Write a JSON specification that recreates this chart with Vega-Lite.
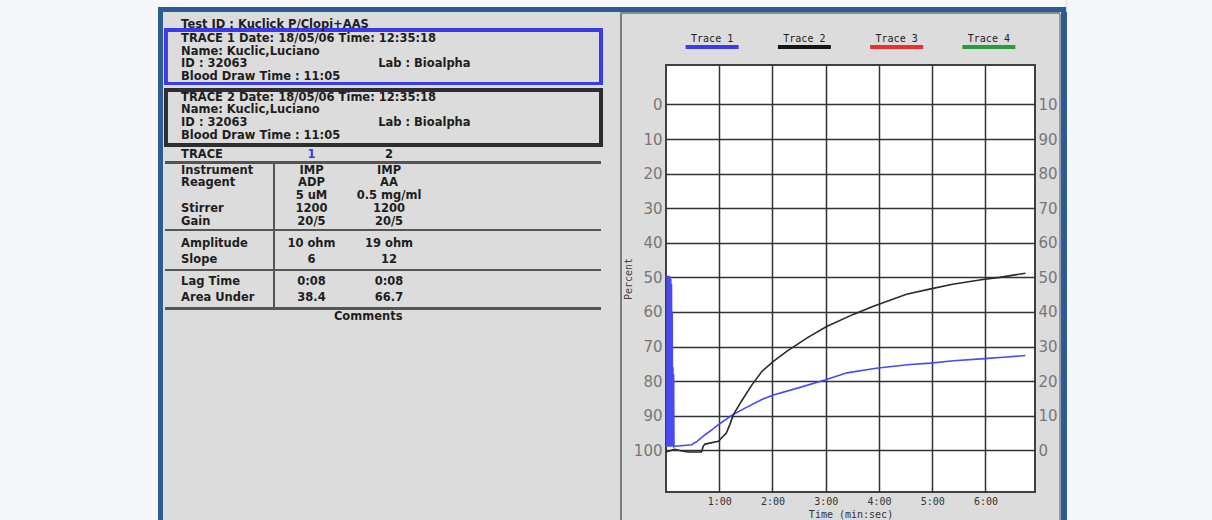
{
  "$schema": "https://vega.github.io/schema/vega-lite/v6.json",
  "background": "#dcdcdc",
  "padding": 0,
  "spacing": 0,
  "config": {"view": {"stroke": null}, "concat": {"spacing": 0}},
  "datasets": {
    "info": [
      {"line": 4, "col": "label", "text": "Test ID : Kuclick P/Clopi+AAS"},
      {"line": 8.5, "col": "label", "text": "TRACE 1 Date: 18/05/06 Time: 12:35:18"},
      {"line": 12.5, "col": "label", "text": "Name: Kuclic,Luciano"},
      {"line": 16.5, "col": "label", "text": "ID  : 32063"},
      {"line": 16.5, "col": "lab", "text": "Lab : Bioalpha"},
      {"line": 20.5, "col": "label", "text": "Blood Draw Time : 11:05"},
      {"line": 27, "col": "label", "text": "TRACE 2 Date: 18/05/06 Time: 12:35:18"},
      {"line": 31, "col": "label", "text": "Name: Kuclic,Luciano"},
      {"line": 35, "col": "label", "text": "ID  : 32063"},
      {"line": 35, "col": "lab", "text": "Lab : Bioalpha"},
      {"line": 39, "col": "label", "text": "Blood Draw Time : 11:05"},
      {"line": 45, "col": "label", "text": "TRACE"},
      {"line": 45, "col": "h1", "text": "1"},
      {"line": 45, "col": "t2", "text": "2"},
      {"line": 50, "col": "label", "text": "Instrument"},
      {"line": 50, "col": "t1", "text": "IMP"},
      {"line": 50, "col": "t2", "text": "IMP"},
      {"line": 54, "col": "label", "text": "Reagent"},
      {"line": 54, "col": "t1", "text": "ADP"},
      {"line": 54, "col": "t2", "text": "AA"},
      {"line": 58, "col": "t1", "text": "5 uM"},
      {"line": 58, "col": "t2", "text": "0.5 mg/ml"},
      {"line": 62, "col": "label", "text": "Stirrer"},
      {"line": 62, "col": "t1", "text": "1200"},
      {"line": 62, "col": "t2", "text": "1200"},
      {"line": 66, "col": "label", "text": "Gain"},
      {"line": 66, "col": "t1", "text": "20/5"},
      {"line": 66, "col": "t2", "text": "20/5"},
      {"line": 73, "col": "label", "text": "Amplitude"},
      {"line": 73, "col": "t1", "text": "10 ohm"},
      {"line": 73, "col": "t2", "text": "19 ohm"},
      {"line": 78, "col": "label", "text": "Slope"},
      {"line": 78, "col": "t1", "text": "6"},
      {"line": 78, "col": "t2", "text": "12"},
      {"line": 85, "col": "label", "text": "Lag Time"},
      {"line": 85, "col": "t1", "text": "0:08"},
      {"line": 85, "col": "t2", "text": "0:08"},
      {"line": 90, "col": "label", "text": "Area Under"},
      {"line": 90, "col": "t1", "text": "38.4"},
      {"line": 90, "col": "t2", "text": "66.7"},
      {"line": 96, "col": "center", "text": "Comments"}
    ],
    "traces": [
      {"trace": 1, "t": 1, "pct": 99}, {"trace": 1, "t": 1.4, "pct": 49.5}, {"trace": 1, "t": 1.8, "pct": 99},
      {"trace": 1, "t": 2.2, "pct": 49.5}, {"trace": 1, "t": 2.6, "pct": 99}, {"trace": 1, "t": 3, "pct": 49.5},
      {"trace": 1, "t": 3.4, "pct": 99}, {"trace": 1, "t": 3.8, "pct": 49.5}, {"trace": 1, "t": 4.2, "pct": 99},
      {"trace": 1, "t": 4.6, "pct": 50}, {"trace": 1, "t": 5, "pct": 99}, {"trace": 1, "t": 5.4, "pct": 50.5},
      {"trace": 1, "t": 5.8, "pct": 99}, {"trace": 1, "t": 6.2, "pct": 52}, {"trace": 1, "t": 6.6, "pct": 99},
      {"trace": 1, "t": 7, "pct": 60}, {"trace": 1, "t": 7.4, "pct": 99}, {"trace": 1, "t": 7.8, "pct": 76},
      {"trace": 1, "t": 8.2, "pct": 99}, {"trace": 1, "t": 8.6, "pct": 78}, {"trace": 1, "t": 9, "pct": 99},
      {"trace": 1, "t": 10, "pct": 98.8}, {"trace": 1, "t": 20, "pct": 98.6}, {"trace": 1, "t": 29, "pct": 98.4},
      {"trace": 1, "t": 35, "pct": 97.4}, {"trace": 1, "t": 44, "pct": 95.5}, {"trace": 1, "t": 52, "pct": 94},
      {"trace": 1, "t": 59, "pct": 92.6}, {"trace": 1, "t": 74, "pct": 89.9}, {"trace": 1, "t": 89, "pct": 87.8},
      {"trace": 1, "t": 108, "pct": 85.3}, {"trace": 1, "t": 121, "pct": 84}, {"trace": 1, "t": 151, "pct": 81.8},
      {"trace": 1, "t": 179, "pct": 79.7}, {"trace": 1, "t": 204, "pct": 77.6}, {"trace": 1, "t": 226, "pct": 76.7},
      {"trace": 1, "t": 239, "pct": 76.2}, {"trace": 1, "t": 275, "pct": 75.2}, {"trace": 1, "t": 298, "pct": 74.8},
      {"trace": 1, "t": 324, "pct": 74.1}, {"trace": 1, "t": 359, "pct": 73.5}, {"trace": 1, "t": 380, "pct": 73.1},
      {"trace": 1, "t": 405, "pct": 72.6},
      {"trace": 2, "t": 0, "pct": 100.3}, {"trace": 2, "t": 2, "pct": 100.3}, {"trace": 2, "t": 10, "pct": 99.7},
      {"trace": 2, "t": 18, "pct": 100.2}, {"trace": 2, "t": 25, "pct": 100.5}, {"trace": 2, "t": 40, "pct": 100.5},
      {"trace": 2, "t": 42, "pct": 98.8}, {"trace": 2, "t": 44, "pct": 98.2}, {"trace": 2, "t": 59, "pct": 97.4},
      {"trace": 2, "t": 68, "pct": 95}, {"trace": 2, "t": 72, "pct": 92.5}, {"trace": 2, "t": 76, "pct": 89.7},
      {"trace": 2, "t": 85, "pct": 85.8}, {"trace": 2, "t": 97, "pct": 81}, {"trace": 2, "t": 108, "pct": 77.2},
      {"trace": 2, "t": 121, "pct": 74.3}, {"trace": 2, "t": 136, "pct": 71.4}, {"trace": 2, "t": 159, "pct": 67.5},
      {"trace": 2, "t": 181, "pct": 64.2}, {"trace": 2, "t": 211, "pct": 60.7}, {"trace": 2, "t": 233, "pct": 58.4},
      {"trace": 2, "t": 271, "pct": 54.9}, {"trace": 2, "t": 297, "pct": 53.4}, {"trace": 2, "t": 323, "pct": 52},
      {"trace": 2, "t": 357, "pct": 50.6}, {"trace": 2, "t": 376, "pct": 50}, {"trace": 2, "t": 405, "pct": 48.8}
    ]
  },
  "hconcat": [
    {"width": 158, "height": 520, "data": {"values": []}, "mark": "rect", "view": {"fill": "#f5f7fa"}},
    {
      "spacing": 0,
      "vconcat": [
        {"width": 908, "height": 7, "data": {"values": []}, "mark": "rect", "view": {"fill": "#f5f7fa"}},
        {"width": 908, "height": 5, "data": {"values": []}, "mark": "rect", "view": {"fill": "#2c5b95"}},
        {
          "spacing": 0,
          "hconcat": [
            {"width": 5, "height": 508, "data": {"values": []}, "mark": "rect", "view": {"fill": "#2c5b95"}},
            {
              "width": 452, "height": 508,
              "data": {"name": "info"},
              "layer": [
                {"mark": {"type": "rect", "filled": false, "color": "#3b3be8", "strokeWidth": 2.5},
                 "encoding": {
                   "x": {"datum": 0.62, "type": "quantitative", "scale": {"domain": [0, 100]}, "axis": null},
                   "x2": {"datum": 96.9},
                   "y": {"datum": 5.67, "type": "quantitative", "scale": {"domain": [0, 160], "reverse": true}, "axis": null},
                   "y2": {"datum": 22.58}}},
                {"mark": {"type": "rect", "filled": false, "color": "#2e2e2e", "strokeWidth": 2.5},
                 "encoding": {
                   "x": {"datum": 0.62, "type": "quantitative", "scale": {"domain": [0, 100]}, "axis": null},
                   "x2": {"datum": 96.9},
                   "y": {"datum": 24.57, "type": "quantitative", "scale": {"domain": [0, 160], "reverse": true}, "axis": null},
                   "y2": {"datum": 41.89}}},
                {"mark": {"type": "rule", "color": "#555555", "strokeWidth": 2},
                 "encoding": {
                   "x": {"datum": 0.62, "type": "quantitative", "scale": {"domain": [0, 100]}, "axis": null},
                   "x2": {"datum": 96.9},
                   "y": {"datum": 47.4, "type": "quantitative", "scale": {"domain": [0, 160], "reverse": true}, "axis": null}}},
                {"mark": {"type": "rule", "color": "#555555", "strokeWidth": 2},
                 "encoding": {
                   "x": {"datum": 0.62, "type": "quantitative", "scale": {"domain": [0, 100]}, "axis": null},
                   "x2": {"datum": 96.9},
                   "y": {"datum": 68.66, "type": "quantitative", "scale": {"domain": [0, 160], "reverse": true}, "axis": null}}},
                {"mark": {"type": "rule", "color": "#555555", "strokeWidth": 2},
                 "encoding": {
                   "x": {"datum": 0.62, "type": "quantitative", "scale": {"domain": [0, 100]}, "axis": null},
                   "x2": {"datum": 96.9},
                   "y": {"datum": 81.26, "type": "quantitative", "scale": {"domain": [0, 160], "reverse": true}, "axis": null}}},
                {"mark": {"type": "rule", "color": "#555555", "strokeWidth": 2},
                 "encoding": {
                   "x": {"datum": 0.62, "type": "quantitative", "scale": {"domain": [0, 100]}, "axis": null},
                   "x2": {"datum": 96.9},
                   "y": {"datum": 93.39, "type": "quantitative", "scale": {"domain": [0, 160], "reverse": true}, "axis": null}}},
                {"mark": {"type": "rule", "color": "#555555", "strokeWidth": 2},
                 "encoding": {
                   "x": {"datum": 24.56, "type": "quantitative", "scale": {"domain": [0, 100]}, "axis": null},
                   "y": {"datum": 47.4, "type": "quantitative", "scale": {"domain": [0, 160], "reverse": true}, "axis": null},
                   "y2": {"datum": 93.39}}},
                {"transform": [{"filter": "datum.col === 'label'"}],
                 "mark": {"type": "text", "align": "left", "baseline": "middle", "font": "DejaVu Sans", "fontWeight": "bold", "fontSize": 11.5, "color": "#1e1e1e"},
                 "encoding": {
                   "x": {"datum": 4, "type": "quantitative", "scale": {"domain": [0, 100]}, "axis": null},
                   "y": {"field": "line", "type": "quantitative", "scale": {"domain": [0, 160], "reverse": true}, "axis": null},
                   "text": {"field": "text"}}},
                {"transform": [{"filter": "datum.col === 'lab'"}],
                 "mark": {"type": "text", "align": "left", "baseline": "middle", "font": "DejaVu Sans", "fontWeight": "bold", "fontSize": 11.5, "color": "#1e1e1e"},
                 "encoding": {
                   "x": {"datum": 47.6, "type": "quantitative", "scale": {"domain": [0, 100]}, "axis": null},
                   "y": {"field": "line", "type": "quantitative", "scale": {"domain": [0, 160], "reverse": true}, "axis": null},
                   "text": {"field": "text"}}},
                {"transform": [{"filter": "datum.col === 't1'"}],
                 "mark": {"type": "text", "align": "center", "baseline": "middle", "font": "DejaVu Sans", "fontWeight": "bold", "fontSize": 11.5, "color": "#1e1e1e"},
                 "encoding": {
                   "x": {"datum": 32.85, "type": "quantitative", "scale": {"domain": [0, 100]}, "axis": null},
                   "y": {"field": "line", "type": "quantitative", "scale": {"domain": [0, 160], "reverse": true}, "axis": null},
                   "text": {"field": "text"}}},
                {"transform": [{"filter": "datum.col === 'h1'"}],
                 "mark": {"type": "text", "align": "center", "baseline": "middle", "font": "DejaVu Sans", "fontWeight": "bold", "fontSize": 11.5, "color": "#3a3af0"},
                 "encoding": {
                   "x": {"datum": 32.85, "type": "quantitative", "scale": {"domain": [0, 100]}, "axis": null},
                   "y": {"field": "line", "type": "quantitative", "scale": {"domain": [0, 160], "reverse": true}, "axis": null},
                   "text": {"field": "text"}}},
                {"transform": [{"filter": "datum.col === 't2'"}],
                 "mark": {"type": "text", "align": "center", "baseline": "middle", "font": "DejaVu Sans", "fontWeight": "bold", "fontSize": 11.5, "color": "#1e1e1e"},
                 "encoding": {
                   "x": {"datum": 50.0, "type": "quantitative", "scale": {"domain": [0, 100]}, "axis": null},
                   "y": {"field": "line", "type": "quantitative", "scale": {"domain": [0, 160], "reverse": true}, "axis": null},
                   "text": {"field": "text"}}},
                {"transform": [{"filter": "datum.col === 'center'"}],
                 "mark": {"type": "text", "align": "center", "baseline": "middle", "font": "DejaVu Sans", "fontWeight": "bold", "fontSize": 11.5, "color": "#1e1e1e"},
                 "encoding": {
                   "x": {"datum": 45.4, "type": "quantitative", "scale": {"domain": [0, 100]}, "axis": null},
                   "y": {"field": "line", "type": "quantitative", "scale": {"domain": [0, 160], "reverse": true}, "axis": null},
                   "text": {"field": "text"}}}
              ]
            },
            {"width": 5, "height": 508, "data": {"values": []}, "mark": "rect"},
            {
              "spacing": 0,
              "vconcat": [
                {"width": 440, "height": 2, "data": {"values": []}, "mark": "rect", "view": {"fill": "#8a8a8a"}},
                {
                  "spacing": 0,
                  "hconcat": [
                    {"width": 2, "height": 506, "data": {"values": []}, "mark": "rect", "view": {"fill": "#7a7a7a"}},
                    {
                      "spacing": 0,
                      "vconcat": [
                        {
                          "width": 369, "height": 50,
                          "data": {"values": [{"trace": "Trace 1"}, {"trace": "Trace 2"}, {"trace": "Trace 3"}, {"trace": "Trace 4"}]},
                          "encoding": {"x": {"field": "trace", "type": "nominal", "scale": {"type": "point", "padding": 0.5}, "axis": null}},
                          "layer": [
                            {"mark": {"type": "text", "font": "DejaVu Sans Mono", "fontSize": 10, "color": "#222222", "baseline": "middle"},
                             "encoding": {"text": {"field": "trace"}}},
                            {"mark": {"type": "point", "shape": "M-1,0L1,0", "size": 2809, "strokeWidth": 4, "filled": false, "opacity": 1, "yOffset": 8},
                             "encoding": {"color": {"field": "trace", "type": "nominal", "scale": {"domain": ["Trace 1", "Trace 2", "Trace 3", "Trace 4"], "range": ["#3a3af0", "#151515", "#e83030", "#2a9a3a"]}, "legend": null}}}
                          ]
                        },
                        {
                          "width": 369, "height": 427,
                          "view": {"fill": "#ffffff", "stroke": "#404040", "strokeWidth": 2},
                          "data": {"name": "traces"},
                          "encoding": {
                            "x": {"field": "t", "type": "quantitative",
                                  "scale": {"domain": [0, 415.8], "nice": false, "zero": false},
                                  "axis": {"values": [60, 120, 180, 240, 300, 360], "labelExpr": "floor(datum.value / 60) + ':00'",
                                           "grid": true, "gridColor": "#333333", "gridWidth": 1.5, "domain": false, "ticks": false,
                                           "labelFont": "DejaVu Sans Mono", "labelFontSize": 10, "labelColor": "#333333", "labelPadding": 4,
                                           "title": "Time (min:sec)", "titleFont": "DejaVu Sans Mono", "titleFontSize": 10,
                                           "titleFontWeight": "normal", "titleColor": "#333333", "titlePadding": 3}}
                          },
                          "layer": [
                            {"transform": [{"filter": "datum.trace === 1"}],
                             "mark": {"type": "line", "color": "#4a4af2", "strokeWidth": 1.6},
                             "encoding": {
                               "y": {"field": "pct", "type": "quantitative",
                                     "scale": {"domain": [-11.4, 112.05], "reverse": true, "nice": false, "zero": false},
                                     "axis": {"orient": "left", "values": [0, 10, 20, 30, 40, 50, 60, 70, 80, 90, 100],
                                              "grid": true, "gridColor": "#333333", "gridWidth": 1.5, "domain": false, "ticks": false,
                                              "labelFont": "DejaVu Sans", "labelFontSize": 15, "labelColor": "#777777", "labelPadding": 4,
                                              "title": "Percent", "titleFont": "DejaVu Sans Mono", "titleFontSize": 10,
                                              "titleFontWeight": "normal", "titleColor": "#444444", "titlePadding": 0}}}},
                            {"transform": [{"filter": "datum.trace === 2"}],
                             "mark": {"type": "line", "color": "#2a2a2a", "strokeWidth": 1.6},
                             "encoding": {
                               "y": {"field": "pct", "type": "quantitative",
                                     "scale": {"domain": [-11.4, 112.05], "reverse": true, "nice": false, "zero": false},
                                     "axis": {"orient": "right", "values": [0, 10, 20, 30, 40, 50, 60, 70, 80, 90, 100],
                                              "labelExpr": "datum.value === 0 ? '10' : '' + (100 - datum.value)",
                                              "grid": false, "domain": false, "ticks": false,
                                              "labelFont": "DejaVu Sans", "labelFontSize": 15, "labelColor": "#777777", "labelPadding": 3,
                                              "title": null}}}}
                          ],
                          "resolve": {"scale": {"y": "independent"}}
                        }
                      ]
                    },
                    {"width": 2, "height": 506, "data": {"values": []}, "mark": "rect", "view": {"fill": "#9a9a9a"}}
                  ]
                }
              ]
            },
            {"width": 6, "height": 508, "data": {"values": []}, "mark": "rect", "view": {"fill": "#2c5b95"}}
          ]
        }
      ]
    },
    {"width": 146, "height": 520, "data": {"values": []}, "mark": "rect", "view": {"fill": "#f5f7fa"}}
  ]
}
